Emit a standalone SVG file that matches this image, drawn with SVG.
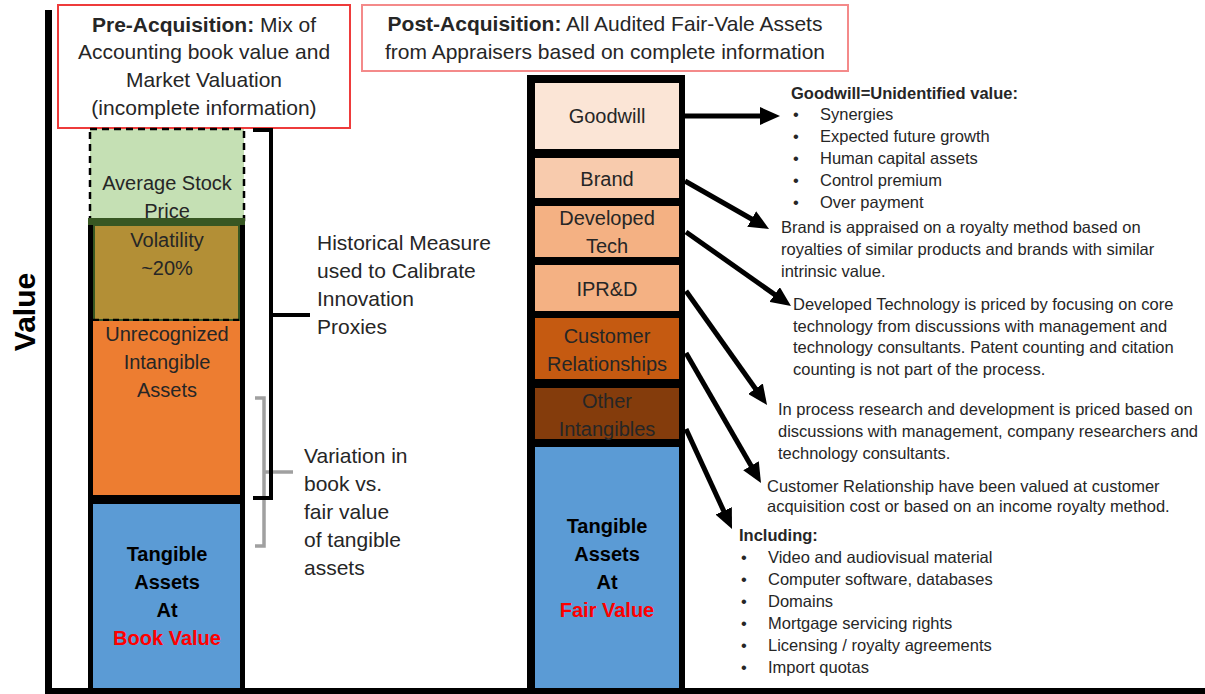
<svg xmlns="http://www.w3.org/2000/svg" width="1205" height="694" viewBox="0 0 1205 694">
<defs>
<style>
text{font-family:"Liberation Sans",Arial,sans-serif;fill:#262626}
.t20{font-size:20px;text-anchor:middle}
.t21{font-size:21px}
.b{font-weight:bold}
.ann{font-size:16.5px}
.red{fill:#ff0000}
.arrow{stroke:#000;stroke-width:5;fill:none;marker-end:url(#head)}
</style>
<marker id="head" markerUnits="userSpaceOnUse" markerWidth="20" markerHeight="18" viewBox="0 0 20 18" refX="8" refY="9" orient="auto">
<path d="M0,0 L20,9 L0,18 z" fill="#000"/>
</marker>
</defs>
<rect width="1205" height="694" fill="#fff"/>

<g id="axes">
<rect x="45" y="10" width="7" height="684" fill="#000"/>
<rect x="45" y="688" width="1160" height="6" fill="#000"/>
<text x="35" y="312" transform="rotate(-90 35 312)" style="font-size:30px;font-weight:bold;text-anchor:middle;fill:#000">Value</text>
</g>

<g id="pre-title">
<rect x="58" y="5" width="292" height="123" fill="#fff" stroke="#ee3b3b" stroke-width="2"/>
<text class="t21" x="204" y="32" text-anchor="middle"><tspan class="b">Pre-Acquisition:</tspan> Mix of</text>
<text class="t21" x="204" y="59" text-anchor="middle">Accounting book value and</text>
<text class="t21" x="204" y="87" text-anchor="middle">Market Valuation</text>
<text class="t21" x="204" y="115" text-anchor="middle">(incomplete information)</text>
</g>

<g id="post-title">
<rect x="362" y="5" width="486" height="66" fill="#fff" stroke="#f48a8a" stroke-width="2"/>
<text class="t21" x="605" y="31" text-anchor="middle"><tspan class="b">Post-Acquisition:</tspan> All Audited Fair-Vale Assets</text>
<text class="t21" x="605" y="59" text-anchor="middle">from Appraisers based on complete information</text>
</g>

<g id="left-bar">
<rect x="90" y="129" width="154" height="91" fill="#c5e0b4" stroke="#000" stroke-width="2.5" stroke-dasharray="7,5"/>
<rect x="88" y="218" width="157" height="472" fill="#000"/>
<rect x="88" y="218" width="157" height="7" fill="#385723"/>
<rect x="94" y="225" width="145" height="95" fill="#b38f36" stroke="#385723" stroke-width="2"/>
<line x1="93" y1="320" x2="240" y2="320" stroke="#000" stroke-width="2.5" stroke-dasharray="6,4"/>
<rect x="93" y="321" width="147" height="174" fill="#ed7d31"/>
<rect x="93" y="504" width="147" height="184" fill="#5b9bd5"/>
</g>

<g id="left-labels">
<text class="t20" x="167" y="190">Average Stock</text>
<text class="t20" x="167" y="218">Price</text>
<text class="t20" x="167" y="247">Volatility</text>
<text class="t20" x="167" y="275">~20%</text>
<text class="t20" x="167" y="341">Unrecognized</text>
<text class="t20" x="167" y="369">Intangible</text>
<text class="t20" x="167" y="397">Assets</text>
<text class="t20 b" x="167" y="561" style="fill:#000">Tangible</text>
<text class="t20 b" x="167" y="589" style="fill:#000">Assets</text>
<text class="t20 b" x="167" y="617" style="fill:#000">At</text>
<text class="t20 b red" x="167" y="645">Book Value</text>
</g>

<g id="brackets">
<path d="M255,398 H264 V546 H255 M264,472 H293" fill="none" stroke="#a0a0a0" stroke-width="3.5"/>
<path d="M253,130 H271 V498 H253 M271,315 H310" fill="none" stroke="#000" stroke-width="4"/>
</g>

<g id="bracket-labels">
<text class="t21" x="317" y="250">Historical Measure</text>
<text class="t21" x="317" y="278">used to Calibrate</text>
<text class="t21" x="317" y="306">Innovation</text>
<text class="t21" x="317" y="334">Proxies</text>
<text class="t21" x="304" y="463">Variation in</text>
<text class="t21" x="304" y="491">book vs.</text>
<text class="t21" x="304" y="519">fair value</text>
<text class="t21" x="304" y="547">of tangible</text>
<text class="t21" x="304" y="575">assets</text>
</g>

<g id="right-bar">
<rect x="527" y="75" width="158" height="615" fill="#000"/>
<g id="goodwill"><rect x="535" y="83" width="144" height="66" fill="#fbe5d6"/><text class="t20" x="607" y="123">Goodwill</text></g>
<g id="brand"><rect x="535" y="158" width="144" height="40" fill="#f8cbad"/><text class="t20" x="607" y="186">Brand</text></g>
<g id="developed-tech"><rect x="535" y="206" width="144" height="51" fill="#f4b183"/><text class="t20" x="607" y="225">Developed</text><text class="t20" x="607" y="253">Tech</text></g>
<g id="iprd"><rect x="535" y="265" width="144" height="46" fill="#f4b183"/><text class="t20" x="607" y="296">IPR&amp;D</text></g>
<g id="customer"><rect x="535" y="318" width="144" height="61" fill="#c55a11"/><text class="t20" x="607" y="343">Customer</text><text class="t20" x="607" y="371">Relationships</text></g>
<g id="other"><rect x="535" y="388" width="144" height="51" fill="#843c0c"/><text class="t20" x="607" y="408">Other</text><text class="t20" x="607" y="436">Intangibles</text></g>
<g id="tangible-fair"><rect x="535" y="447" width="144" height="241" fill="#5b9bd5"/>
<text class="t20 b" x="607" y="533" style="fill:#000">Tangible</text>
<text class="t20 b" x="607" y="561" style="fill:#000">Assets</text>
<text class="t20 b" x="607" y="589" style="fill:#000">At</text>
<text class="t20 b red" x="607" y="617">Fair Value</text></g>
</g>

<g id="connectors">
<line class="arrow" x1="685" y1="116" x2="768" y2="116"/>
<line class="arrow" x1="685" y1="181" x2="758.6" y2="223"/>
<line class="arrow" x1="686" y1="232" x2="781.2" y2="299.1"/>
<line class="arrow" x1="686" y1="291" x2="760.1" y2="395.2"/>
<line class="arrow" x1="686" y1="353" x2="755" y2="472.6"/>
<line class="arrow" x1="686" y1="429" x2="727" y2="518.1"/>
</g>

<g id="goodwill-note">
<text class="ann b" x="791" y="99">Goodwill=Unidentified value:</text>
<text class="ann" x="793" y="120">•</text><text class="ann" x="820" y="120">Synergies</text>
<text class="ann" x="793" y="142">•</text><text class="ann" x="820" y="142">Expected future growth</text>
<text class="ann" x="793" y="164">•</text><text class="ann" x="820" y="164">Human capital assets</text>
<text class="ann" x="793" y="186">•</text><text class="ann" x="820" y="186">Control premium</text>
<text class="ann" x="793" y="208">•</text><text class="ann" x="820" y="208">Over payment</text>
</g>
<g id="brand-note">
<text class="ann" x="781" y="233">Brand is appraised on a royalty method based on</text>
<text class="ann" x="781" y="255">royalties of similar products and brands with similar</text>
<text class="ann" x="781" y="277">intrinsic value.</text>
</g>
<g id="tech-note">
<text class="ann" x="793" y="310">Developed Technology is priced by focusing on core</text>
<text class="ann" x="793" y="332">technology from discussions with management and</text>
<text class="ann" x="793" y="353">technology consultants. Patent counting and citation</text>
<text class="ann" x="793" y="375">counting is not part of the process.</text>
</g>
<g id="iprd-note">
<text class="ann" x="778" y="415">In process research and development  is priced based on</text>
<text class="ann" x="778" y="437">discussions with management, company researchers and</text>
<text class="ann" x="778" y="459">technology consultants.</text>
</g>
<g id="customer-note">
<text class="ann" x="767" y="492">Customer Relationship have been valued at customer</text>
<text class="ann" x="767" y="512">acquisition cost or based on an income royalty method.</text>
</g>
<g id="other-note">
<text class="ann b" x="739" y="541">Including:</text>
<text class="ann" x="741" y="563">•</text><text class="ann" x="768" y="563">Video and audiovisual material</text>
<text class="ann" x="741" y="585">•</text><text class="ann" x="768" y="585">Computer software, databases</text>
<text class="ann" x="741" y="607">•</text><text class="ann" x="768" y="607">Domains</text>
<text class="ann" x="741" y="629">•</text><text class="ann" x="768" y="629">Mortgage servicing rights</text>
<text class="ann" x="741" y="651">•</text><text class="ann" x="768" y="651">Licensing / royalty agreements</text>
<text class="ann" x="741" y="673">•</text><text class="ann" x="768" y="673">Import quotas</text>
</g>
</svg>
